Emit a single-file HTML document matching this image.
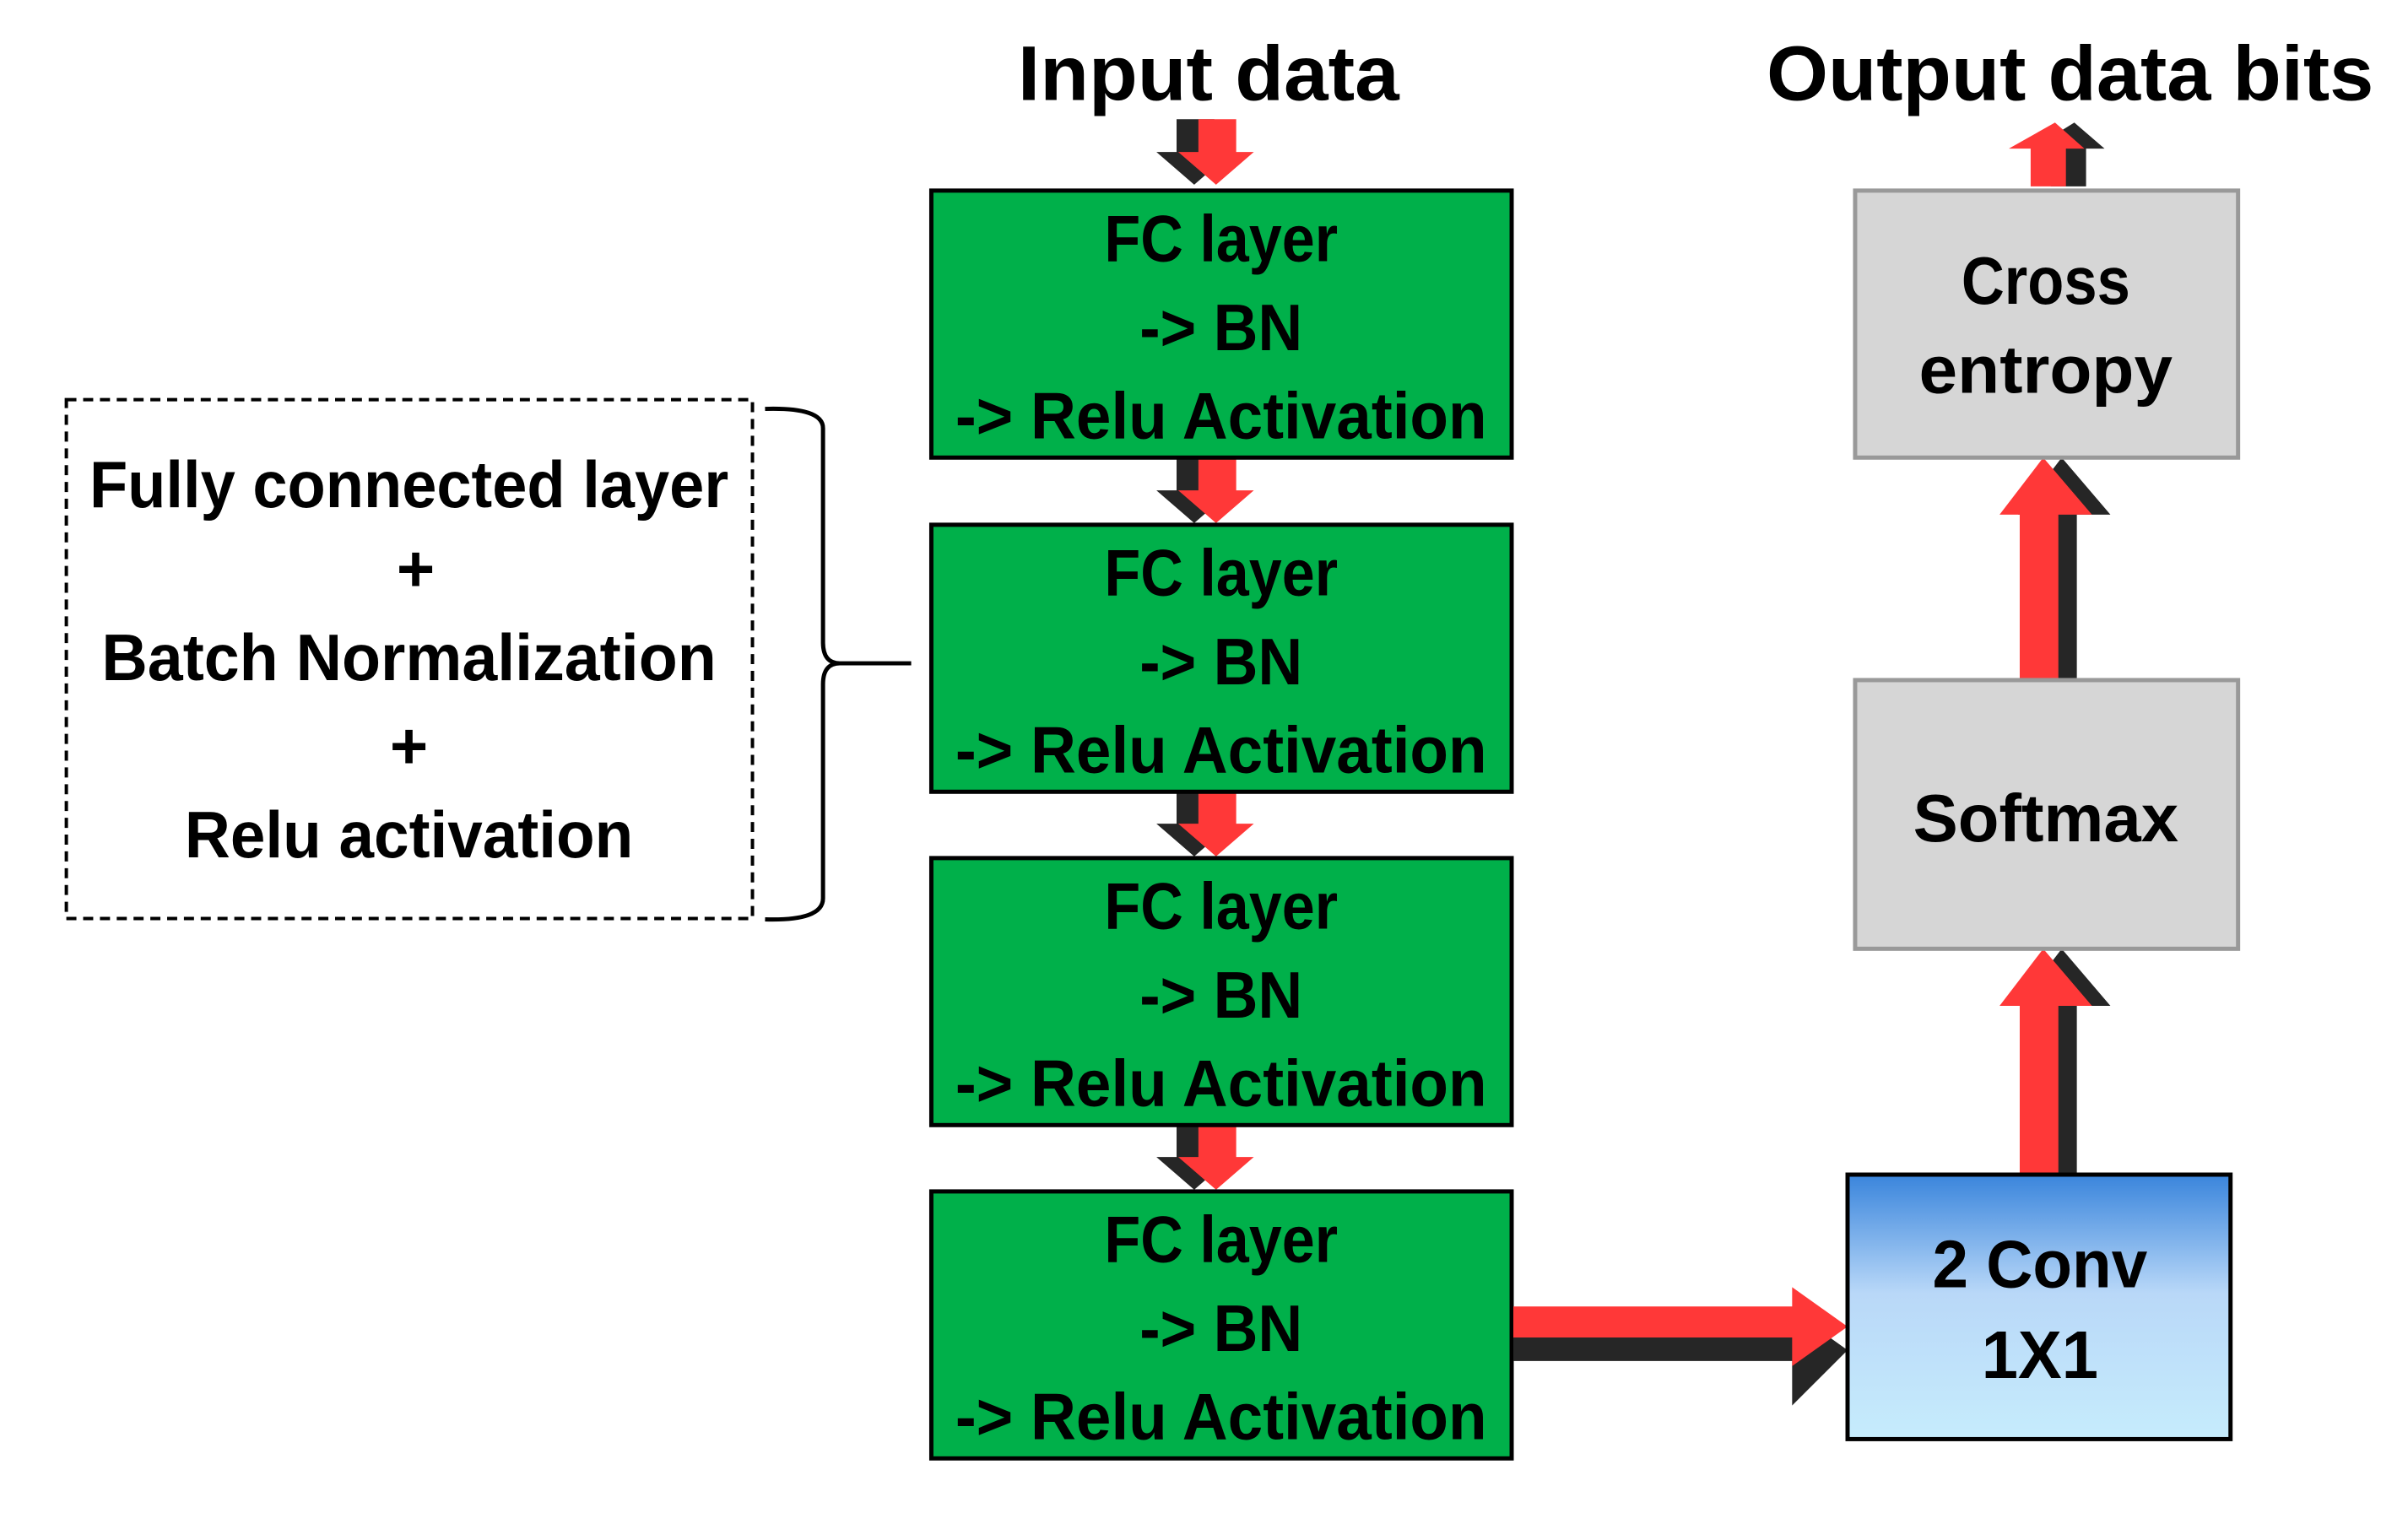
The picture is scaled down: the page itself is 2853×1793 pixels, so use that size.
<!DOCTYPE html>
<html><head><meta charset="utf-8"><style>html,body{margin:0;padding:0;background:#fff}svg{display:block}</style></head><body>
<svg width="2853" height="1793" viewBox="0 0 2853 1793" xmlns="http://www.w3.org/2000/svg" font-family="Liberation Sans, sans-serif" font-weight="bold">
<defs>
<linearGradient id="bl" x1="0" y1="0" x2="0" y2="1">
<stop offset="0" stop-color="#3a85dc"/><stop offset="0.45" stop-color="#b9d8f8"/><stop offset="1" stop-color="#c6ecfc"/>
</linearGradient>
</defs>
<g transform="scale(0.995)">
<text x="1439" y="119" font-size="92" text-anchor="middle" textLength="454" lengthAdjust="spacingAndGlyphs">Input data</text>
<text x="2465" y="119" font-size="92" text-anchor="middle" textLength="723" lengthAdjust="spacingAndGlyphs">Output data bits</text>

<g id="da">
<polygon fill="#262626" points="1401,142 1446,142 1446,181 1467,181 1422,220 1377,181 1401,181"/>
<polygon fill="#ff3838" points="1427,142 1472,142 1472,181 1493,181 1448,220 1403,181 1427,181"/>
</g>
<use href="#da" transform="translate(0,403)" />
<use href="#da" transform="translate(0,800)" />
<use href="#da" transform="translate(0,1197)" />

<g font-size="78" text-anchor="middle">
<rect x="1109" y="227" width="691" height="318" fill="#00b04a" stroke="#000" stroke-width="5"/>
<text x="1454" y="311" textLength="278" lengthAdjust="spacingAndGlyphs">FC layer</text>
<text x="1454" y="417" textLength="194" lengthAdjust="spacingAndGlyphs">-&gt; BN</text>
<text x="1454" y="522" textLength="633" lengthAdjust="spacingAndGlyphs">-&gt; Relu Activation</text>
<rect x="1109" y="625" width="691" height="318" fill="#00b04a" stroke="#000" stroke-width="5"/>
<text x="1454" y="709" textLength="278" lengthAdjust="spacingAndGlyphs">FC layer</text>
<text x="1454" y="815" textLength="194" lengthAdjust="spacingAndGlyphs">-&gt; BN</text>
<text x="1454" y="920" textLength="633" lengthAdjust="spacingAndGlyphs">-&gt; Relu Activation</text>
<rect x="1109" y="1022" width="691" height="318" fill="#00b04a" stroke="#000" stroke-width="5"/>
<text x="1454" y="1106" textLength="278" lengthAdjust="spacingAndGlyphs">FC layer</text>
<text x="1454" y="1212" textLength="194" lengthAdjust="spacingAndGlyphs">-&gt; BN</text>
<text x="1454" y="1317" textLength="633" lengthAdjust="spacingAndGlyphs">-&gt; Relu Activation</text>
<rect x="1109" y="1419" width="691" height="318" fill="#00b04a" stroke="#000" stroke-width="5"/>
<text x="1454" y="1503" textLength="278" lengthAdjust="spacingAndGlyphs">FC layer</text>
<text x="1454" y="1609" textLength="194" lengthAdjust="spacingAndGlyphs">-&gt; BN</text>
<text x="1454" y="1714" textLength="633" lengthAdjust="spacingAndGlyphs">-&gt; Relu Activation</text>

<rect x="79" y="476" width="817" height="618" fill="none" stroke="#000" stroke-width="4" stroke-dasharray="12,8"/>
<text x="487" y="604" textLength="761" lengthAdjust="spacingAndGlyphs">Fully connected layer</text>
<text x="495" y="704">+</text>
<text x="487" y="810" textLength="732" lengthAdjust="spacingAndGlyphs">Batch Normalization</text>
<text x="487" y="915">+</text>
<text x="487" y="1021" textLength="534" lengthAdjust="spacingAndGlyphs">Relu activation</text>
</g>
<path d="M911,487 Q980,485 980,510 L980,765 Q980,790 1000,790 L1085,790 M1000,790 Q980,790 980,815 L980,1070 Q980,1097 911,1095" fill="none" stroke="#000" stroke-width="5"/>

<polygon fill="#262626" points="1802,1584 2134,1584 2134,1561 2200,1608 2134,1674 2134,1621 1802,1621"/>
<polygon fill="#ff3838" points="1802,1556 2134,1556 2134,1533 2200,1580 2134,1627 2134,1593 1802,1593"/>

<polygon fill="#262626" points="2427,1399 2473,1399 2473,1198 2513,1198 2455,1130 2403,1198 2427,1198"/>
<polygon fill="#ff3838" points="2405,1399 2451,1399 2451,1198 2491,1198 2433,1130 2381,1198 2405,1198"/>
<polygon fill="#262626" points="2427,810 2473,810 2473,613 2513,613 2455,545 2403,613 2427,613"/>
<polygon fill="#ff3838" points="2405,810 2451,810 2451,613 2491,613 2433,545 2381,613 2405,613"/>
<polygon fill="#262626" points="2442,222 2484,222 2484,177 2506,177 2470,146 2420,177 2442,177"/>
<polygon fill="#ff3838" points="2418,222 2460,222 2460,177 2482,177 2447,146 2392,177 2418,177"/>

<g font-size="80" text-anchor="middle">
<rect x="2209" y="227" width="456" height="318" fill="#d6d6d6" stroke="#999" stroke-width="5"/>
<text x="2436" y="362" textLength="201" lengthAdjust="spacingAndGlyphs">Cross</text>
<text x="2436" y="468" textLength="302" lengthAdjust="spacingAndGlyphs">entropy</text>
<rect x="2209" y="810" width="456" height="320" fill="#d6d6d6" stroke="#999" stroke-width="5"/>
<text x="2436" y="1002" textLength="316" lengthAdjust="spacingAndGlyphs">Softmax</text>
<rect x="2200" y="1399" width="456" height="315" fill="url(#bl)" stroke="#000" stroke-width="5"/>
<text x="2429" y="1533" textLength="256" lengthAdjust="spacingAndGlyphs">2 Conv</text>
<text x="2429" y="1641" textLength="139" lengthAdjust="spacingAndGlyphs">1X1</text>
</g>
</g>
</svg>
</body></html>
